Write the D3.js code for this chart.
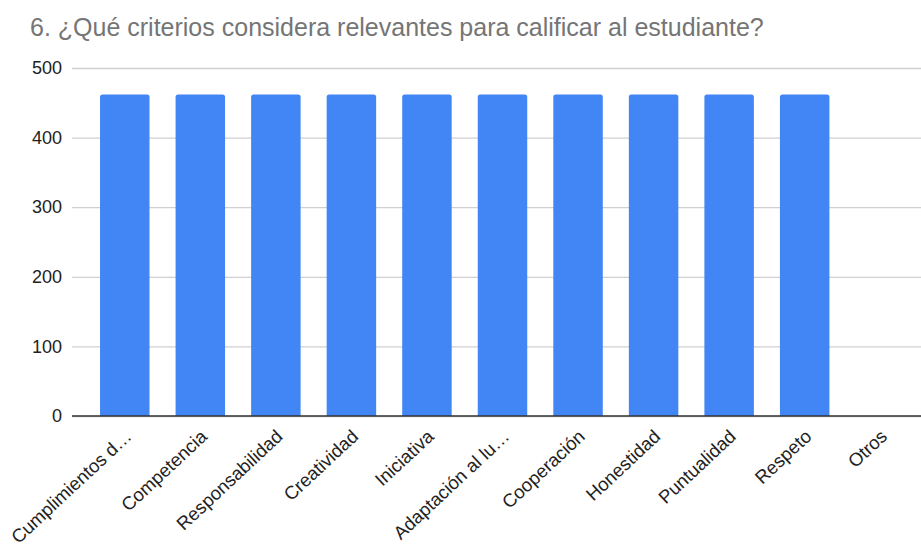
<!DOCTYPE html>
<html>
<head>
<meta charset="utf-8">
<script src="https://cdn.jsdelivr.net/npm/d3@7"></script>
<style>
  html, body { margin: 0; padding: 0; background: #fff; }
  svg { display: block; font-family: "Liberation Sans", Arial, sans-serif; }
</style>
</head>
<body>
<svg id="chart" width="921" height="544"></svg>
<script>
// Survey answers: question 6 on grading criteria
const title = "6. ¿Qué criterios considera relevantes para calificar al estudiante?";
const categories = [
  "Cumplimientos d…", "Competencia", "Responsabilidad", "Creatividad",
  "Iniciativa", "Adaptación al lu…", "Cooperación", "Honestidad",
  "Puntualidad", "Respeto", "Otros"
];
const counts = [462, 462, 462, 462, 462, 462, 462, 462, 462, 462, 0];
const yTicks = [0, 100, 200, 300, 400, 500];

const svg = d3.select("#chart");
const plot = { left: 72, right: 921, top: 68, bottom: 416 };

const x = d3.scaleBand()
  .domain(categories)
  .range([87, 918])
  .paddingInner(0.345)
  .paddingOuter(0.1725);

const y = d3.scaleLinear()
  .domain([0, 500])
  .range([plot.bottom, plot.top]);

// Title
svg.append("text")
  .attr("x", 30)
  .attr("y", 36)
  .attr("fill", "#757575")
  .attr("font-size", 25)
  .text(title);

// Horizontal gridlines and y tick labels
const yAxis = d3.axisLeft(y).tickValues(yTicks).tickSize(-(plot.right - plot.left)).tickPadding(10);
const gy = svg.append("g")
  .attr("transform", `translate(${plot.left},0)`)
  .call(yAxis);
gy.select(".domain").remove();
gy.selectAll(".tick line").attr("stroke", "#d0d0d0").attr("stroke-width", 1.3);
gy.selectAll(".tick text")
  .attr("fill", "#222")
  .attr("font-size", 18)
  .attr("font-family", "'Liberation Sans', Arial, sans-serif");

// Bars with slightly rounded tops
const barPath = d => {
  const x0 = x(d.cat), w = x.bandwidth(), yt = y(d.v), yb = y(0), r = 2.5;
  if (yb - yt <= 0) return "";
  return `M${x0},${yb}V${yt + r}Q${x0},${yt} ${x0 + r},${yt}H${x0 + w - r}Q${x0 + w},${yt} ${x0 + w},${yt + r}V${yb}Z`;
};
svg.append("g")
  .selectAll("path")
  .data(categories.map((c, i) => ({ cat: c, v: counts[i] })))
  .join("path")
  .attr("d", barPath)
  .attr("fill", "#4285f4");

// Baseline
svg.append("line")
  .attr("x1", plot.left).attr("x2", plot.right)
  .attr("y1", y(0)).attr("y2", y(0))
  .attr("stroke", "#333").attr("stroke-width", 1.6);

// Slanted category labels
svg.append("g")
  .selectAll("text")
  .data(categories)
  .join("text")
  .attr("transform", d => `translate(${x(d) + x.bandwidth() / 2 + 8},438) rotate(-43)`)
  .attr("text-anchor", "end")
  .attr("fill", "#222")
  .attr("font-size", 18.5)
  .text(d => d);
</script>
</body>
</html>
